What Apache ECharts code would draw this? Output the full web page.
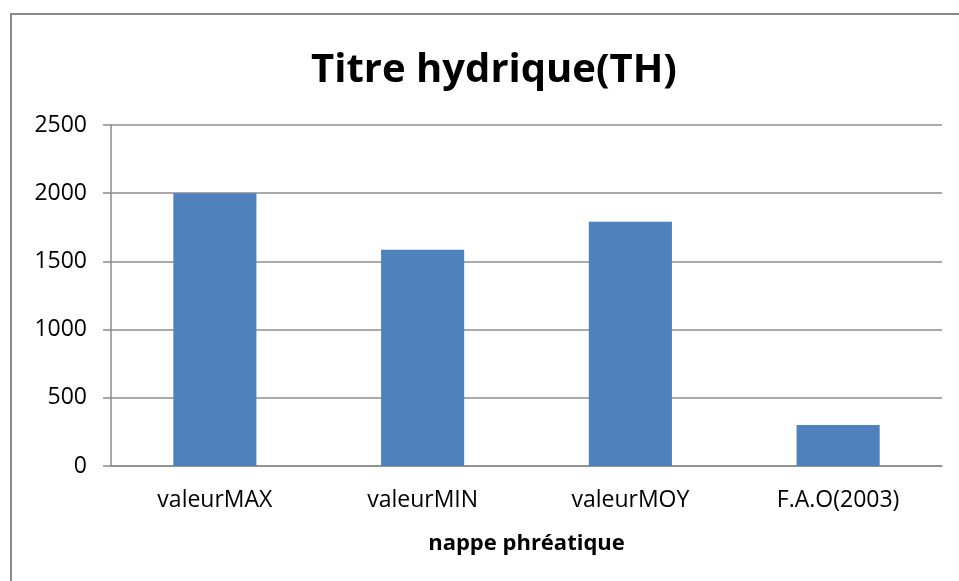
<!DOCTYPE html>
<html>
<head>
<meta charset="utf-8">
<script src="https://cdn.jsdelivr.net/npm/echarts@6/dist/echarts.min.js"></script>
<style>
  html, body { margin: 0; padding: 0; background: #fff; }
  #frame { position: absolute; left: 10px; top: 13px; width: 960px; height: 580px;
           border-top: 2px solid #8a8a8a; border-left: 2px solid #8a8a8a; }
  #chart { position: absolute; left: 0; top: 0; width: 959px; height: 581px; }
</style>
</head>
<body>
<div id="frame"></div>
<div id="chart"></div>
<script>
// Chart data
var categories = ['valeurMAX', 'valeurMIN', 'valeurMOY', 'F.A.O(2003)'];
var values = [2000, 1585, 1790, 300];
var yTicks = [0, 500, 1000, 1500, 2000, 2500];

var FONT = '"Open Sans", "Liberation Sans", sans-serif';
var GRID_COLOR = '#8c8c8c';

var chart = echarts.init(document.getElementById('chart'), null, { renderer: 'canvas' });

chart.setOption({
  backgroundColor: 'transparent',
  animation: false,
  title: {
    text: 'Titre hydrique(TH)',
    left: 489,
    textAlign: 'center',
    top: 46,
    textStyle: { fontFamily: FONT, fontSize: 40, fontWeight: 'bold', color: '#000' }
  },
  grid: { left: 111, right: 17, top: 125, bottom: 115 },
  xAxis: {
    type: 'category',
    data: categories,
    name: 'nappe phréatique',
    nameLocation: 'middle',
    nameGap: 67,
    nameTextStyle: { fontFamily: FONT, fontSize: 22, fontWeight: 'bold', color: '#000' },
    axisLine: { lineStyle: { color: GRID_COLOR, width: 1.5 } },
    axisTick: { show: false },
    axisLabel: { fontFamily: FONT, fontSize: 23, color: '#000', margin: 23 }
  },
  yAxis: {
    type: 'value',
    min: yTicks[0],
    max: yTicks[yTicks.length - 1],
    interval: 500,
    axisLine: { show: true, lineStyle: { color: GRID_COLOR, width: 1.5 } },
    axisTick: { show: true, length: 8, lineStyle: { color: GRID_COLOR, width: 1.5 } },
    axisLabel: {
      fontFamily: FONT, fontSize: 23, color: '#000', margin: 24,
      formatter: function (v) { return String(v); }
    },
    splitLine: { lineStyle: { color: GRID_COLOR, width: 1.5 } }
  },
  series: [{
    type: 'bar',
    data: values,
    barWidth: '40%',
    itemStyle: { color: '#4f81bd' }
  }]
});
</script>
</body>
</html>
